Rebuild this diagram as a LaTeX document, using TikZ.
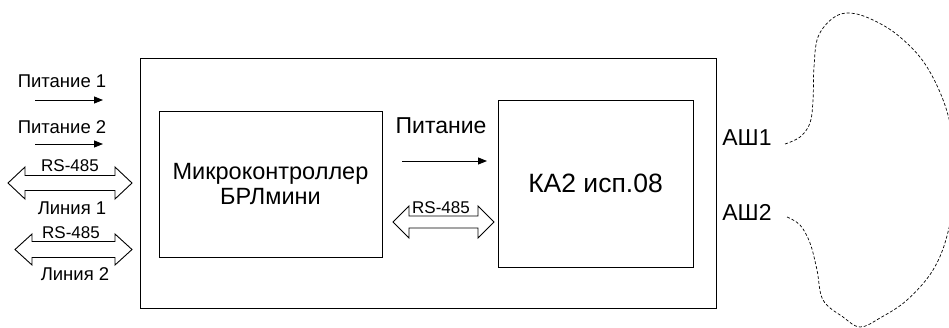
\documentclass[tikz,border=0pt]{standalone}
\usepackage{fontspec}
\setmainfont{Liberation Sans}
\usetikzlibrary{arrows.meta}
\newcommand{\rsarrow}[6]{% left tip x, right tip x, centre y, shaft half, head half, head length
  \draw[barrow] (#1,#3) -- (#1+#6,#3-#5) -- (#1+#6,#3-#4) -- (#2-#6,#3-#4) -- (#2-#6,#3-#5) -- (#2,#3)
    -- (#2-#6,#3+#5) -- (#2-#6,#3+#4) -- (#1+#6,#3+#4) -- (#1+#6,#3+#5) -- cycle;}
\begin{document}
\begin{tikzpicture}[x=1pt,y=-1pt,
  box/.style={draw=black, line width=1pt, inner sep=0pt},
  lbl/.style={inner sep=0pt, anchor=base, font=\fontsize{18.5}{20}\selectfont},
  rslbl/.style={inner sep=0pt, anchor=base, font=\fontsize{17}{19}\selectfont},
  biglbl/.style={inner sep=0pt, anchor=base, font=\fontsize{23}{25}\selectfont},
  flow/.style={line width=0.9pt, -{Triangle[length=9pt,width=7pt]}},
  barrow/.style={draw=black, line width=0.9pt, fill=white, line join=miter},
  antenna/.style={line width=0.7pt, dash pattern=on 3pt off 2pt}
]
\useasboundingbox (0,0) rectangle (949,327);

% boxes
\node[box, minimum width=576pt, minimum height=250pt] (outer) at (428,183) {};
\node[box, minimum width=223pt, minimum height=146pt, align=center,
      font=\fontsize{23.5}{24.5}\selectfont] (mc) at (270.5,184) {Микроконтроллер\\БРЛмини};
\node[box, minimum width=195pt, minimum height=167pt,
      font=\fontsize{26.5}{30}\selectfont] (ka) at (595.5,183.5) {КА2 исп.08};

% left labels
\node[lbl] (pit1) at (62,87) {Питание 1};
\node[lbl] (pit2) at (62,133) {Питание 2};
\node[rslbl] (rs1) at (70,171) {RS-485};
\node[lbl] (lin1) at (72,214) {Линия 1};
\node[rslbl] (rs2) at (71,238) {RS-485};
\node[lbl] (lin2) at (75,280) {Линия 2};

% left arrows
\coordinate (a1s) at (35,100); \coordinate (a1e) at (103,100);
\coordinate (a2s) at (35,144); \coordinate (a2e) at (103,144);
\draw[flow] (a1s) -- (a1e);
\draw[flow] (a2s) -- (a2e);
\rsarrow{8}{132}{183}{7.5}{16}{17}
\rsarrow{15}{132}{249.5}{8}{15.5}{17}

% middle
\node[biglbl] (pit) at (441,133) {Питание};
\coordinate (ps) at (402,161); \coordinate (pe) at (487,161);
\draw[flow] (ps) -- (pe);
\rsarrow{393}{494}{222}{6}{16}{16}
\node[rslbl] (rs3) at (441,213) {RS-485};

% antenna
\node[biglbl] (ash1) at (747,145) {АШ1};
\node[biglbl] (ash2) at (747,220) {АШ2};
\begin{scope}
\clip (0,0) rectangle (949,327);
\draw[antenna] plot[smooth, tension=0.6] coordinates {
  (785,144) (800,137) (810,123) (813,100) (814,67) (818,37) (833,18) (850,13)
  (873,20) (900,37) (927,67) (948,115) (957,175) (948,232) (933,270) (907,300)
  (880,318) (860,327) (843,317) (823,300) (817,270) (810,243) (800,225) (787,217)};
\end{scope}
\end{tikzpicture}
\end{document}
